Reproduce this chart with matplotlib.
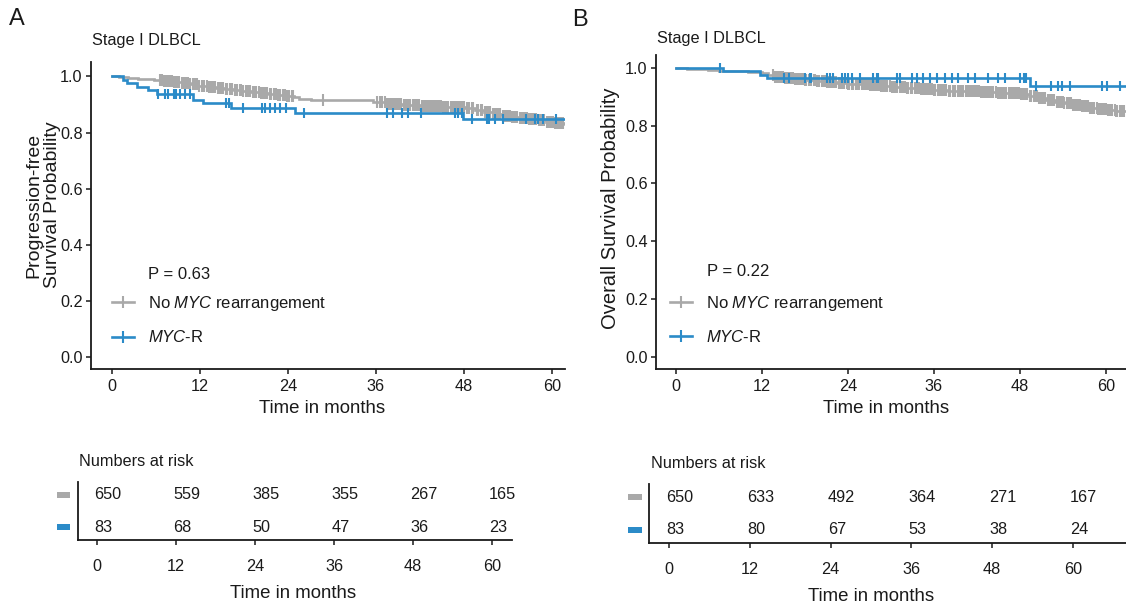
import numpy as np
import matplotlib
matplotlib.use('Agg')
import matplotlib.pyplot as plt
from matplotlib.lines import Line2D
from matplotlib.patches import Rectangle
import matplotlib.transforms as mtransforms

plt.rcParams['font.family'] = ['Liberation Sans', 'DejaVu Sans']
plt.rcParams['mathtext.fontset'] = 'custom'
plt.rcParams['mathtext.it'] = 'Liberation Sans:italic'
plt.rcParams['mathtext.rm'] = 'Liberation Sans'
NARROW = ['Liberation Sans Narrow', 'Liberation Sans', 'DejaVu Sans']

GRAY = '#A9A9A9'
BLUE = '#2B8BC8'
TXT = '#1a1a1a'

# ---------------- data ----------------
risk_times = [0, 12, 24, 36, 48, 60]
group_labels = [r'No $\mathit{MYC}$ rearrangement', r'$\mathit{MYC}$-R']

# Panel A : progression-free survival
pfs_nomyc_t = [0, 1.0, 2.2, 3.5, 4.6, 5.8, 7.0, 8.3, 9.5, 10.6, 11.8, 13.0, 14.2, 15.4,
               16.6, 17.8, 19.0, 20.2, 21.4, 22.6, 23.8, 24.8, 25.5, 27.2, 33.0, 35.6,
               37.5, 39.5, 42.0, 45.0, 48.2, 49.5, 50.8, 52.0, 53.2, 54.4, 55.6, 56.8,
               58.0, 59.2, 60.4, 61.8]
pfs_nomyc_s = [1.0, 0.998, 0.995, 0.992, 0.989, 0.986, 0.983, 0.979, 0.975, 0.971, 0.967,
               0.963, 0.959, 0.955, 0.951, 0.947, 0.943, 0.939, 0.936, 0.933, 0.930, 0.925,
               0.920, 0.917, 0.914, 0.907, 0.902, 0.898, 0.895, 0.892, 0.886, 0.879, 0.872,
               0.866, 0.860, 0.855, 0.851, 0.847, 0.843, 0.839, 0.835, 0.832]
pfs_nomyc_cens = [6.5, 6.8, 7.1, 7.4, 7.6, 7.9, 8.2, 8.5, 8.8, 9.0, 9.2, 9.5, 9.8, 10.1,
                  10.4, 10.7, 11.0, 11.3, 11.6, 11.9, 12.3, 12.6, 12.9, 13.2, 13.5, 13.8,
                  14.0, 14.4, 14.7, 14.9, 15.2, 15.5, 15.7, 16.1, 16.4, 16.8, 17.0, 17.4,
                  17.6, 17.9, 18.3, 18.6, 18.8, 19.2, 19.5, 19.7, 20.0, 20.3, 20.5, 20.8,
                  21.0, 21.2, 21.5, 21.7, 22.1, 22.4, 22.7, 22.9, 23.3, 23.6, 23.9, 24.1,
                  24.5, 24.7, 28.8, 36.2, 36.5, 36.9, 37.2, 37.5, 37.8, 38.1, 38.3, 38.6,
                  38.9, 39.1, 39.4, 39.8, 40.0, 40.2, 40.5, 40.7, 41.0, 41.3, 41.6, 41.9,
                  42.3, 42.6, 42.8, 43.1, 43.3, 43.5, 43.8, 44.0, 44.3, 44.6, 44.9, 45.2,
                  45.4, 45.7, 45.9, 46.3, 46.5, 46.8, 47.1, 47.4, 47.6, 47.9, 48.0, 48.4,
                  48.7, 49.1, 49.3, 49.8, 50.0, 50.3, 50.5, 50.9, 51.1, 51.4, 51.6, 52.0,
                  52.3, 52.5, 52.7, 53.0, 53.3, 53.5, 53.8, 54.0, 54.3, 54.6, 54.9, 55.1,
                  55.3, 55.6, 55.9, 56.1, 56.3, 56.6, 56.9, 57.2, 57.4, 57.6, 57.9, 58.2,
                  58.4, 58.6, 58.8, 59.0, 59.3, 59.5, 59.7, 59.9, 60.2, 60.5, 60.7, 60.9,
                  61.1, 61.3, 61.5]
pfs_myc_t = [0, 1.55, 2.0, 3.4, 4.95, 6.1, 11.1, 12.45, 16.3, 25.0, 47.9, 61.8]
pfs_myc_s = [1.0, 0.988, 0.976, 0.963, 0.951, 0.938, 0.916, 0.904, 0.886, 0.871, 0.847, 0.847]
pfs_myc_cens = [6.3, 7.2, 7.7, 8.4, 8.8, 9.3, 10.0, 10.6, 15.6, 15.95, 17.9, 20.4, 20.9,
                21.5, 22.2, 22.9, 23.8, 26.2, 37.5, 38.4, 39.5, 40.4, 42.2, 46.8, 47.2,
                47.7, 49.05, 51.1, 51.5, 52.2, 53.4, 56.5, 57.7, 58.1, 58.8, 60.6]
pfs_risk_nomyc = [650, 559, 385, 355, 267, 165]
pfs_risk_myc = [83, 68, 50, 47, 36, 23]

# Panel B : overall survival
os_nomyc_t = [0, 1.5, 3.0, 4.5, 6.0, 8.0, 10.0, 12.0, 12.8, 13.6, 15.0, 16.5, 18.0, 19.5,
              21.0, 22.5, 24.0, 25.5, 27.0, 28.5, 30.0, 32.0, 34.0, 36.0, 38.0, 40.0,
              42.5, 45.0, 48.0, 49.3, 50.5, 51.7, 52.9, 54.1, 55.3, 56.5, 57.7, 58.9,
              60.1, 61.3, 62.8]
os_nomyc_s = [1.0, 0.997, 0.995, 0.993, 0.990, 0.988, 0.986, 0.982, 0.975, 0.968, 0.963,
              0.960, 0.957, 0.954, 0.951, 0.948, 0.945, 0.942, 0.939, 0.936, 0.933, 0.930,
              0.927, 0.924, 0.921, 0.918, 0.915, 0.912, 0.909, 0.902, 0.896, 0.889, 0.883,
              0.877, 0.872, 0.867, 0.862, 0.857, 0.853, 0.849, 0.849]
os_nomyc_cens = [13.5, 13.8, 14.1, 14.4, 14.6, 14.9, 15.2, 15.5, 15.7, 16.0, 16.3, 16.6,
                 16.9, 17.1, 17.4, 17.7, 18.0, 18.2, 18.5, 18.7, 18.9, 19.2, 19.4, 19.7,
                 20.0, 20.3, 20.5, 20.8, 21.1, 21.4, 21.6, 21.8, 22.1, 22.3, 22.7, 22.9,
                 23.2, 23.5, 23.8, 24.0, 24.2, 24.5, 24.7, 25.1, 25.3, 25.6, 25.9, 26.2,
                 26.5, 26.8, 27.1, 27.3, 27.6, 27.8, 28.0, 28.3, 28.6, 28.8, 29.0, 29.3,
                 29.5, 29.8, 30.1, 30.4, 30.6, 30.9, 31.2, 31.5, 31.7, 31.9, 32.2, 32.4,
                 32.8, 33.0, 33.3, 33.6, 33.9, 34.2, 34.5, 34.8, 35.0, 35.3, 35.5, 35.7,
                 36.0, 36.2, 36.6, 36.9, 37.1, 37.4, 37.7, 38.1, 38.3, 38.6, 38.8, 39.0,
                 39.3, 39.5, 39.8, 40.1, 40.5, 40.7, 40.9, 41.2, 41.4, 41.7, 42.0, 42.3,
                 42.6, 42.9, 43.1, 43.4, 43.6, 43.8, 44.1, 44.3, 44.7, 45.0, 45.2, 45.5,
                 45.8, 46.1, 46.4, 46.7, 46.9, 47.1, 47.4, 47.6, 47.9, 48.2, 48.4, 48.6,
                 48.9, 49.0, 49.4, 49.6, 49.9, 50.1, 50.4, 50.7, 51.0, 51.2, 51.5, 51.9,
                 52.1, 52.4, 52.6, 52.8, 53.1, 53.3, 53.5, 53.7, 54.0, 54.2, 54.5, 54.8,
                 55.1, 55.4, 55.7, 55.9, 56.1, 56.4, 56.6, 56.9, 57.1, 57.3, 57.5, 57.8,
                 58.0, 58.2, 58.4, 58.7, 58.9, 59.2, 59.4, 59.6, 59.8, 60.0, 60.3, 60.5,
                 60.7, 60.9, 61.2, 61.4, 61.6, 61.9, 62.1, 62.3, 62.5]
os_myc_t = [0, 6.5, 11.7, 12.65, 49.4, 62.8]
os_myc_s = [1.0, 0.988, 0.976, 0.963, 0.938, 0.938]
os_myc_cens = [6.2, 15.0, 15.7, 18.0, 18.7, 18.9, 21.0, 21.5, 21.95, 23.1, 23.6, 24.0,
               24.5, 25.7, 27.5, 28.0, 28.2, 30.8, 31.3, 32.9, 33.6, 34.5, 35.4, 36.4,
               37.5, 38.5, 39.4, 40.8, 41.7, 43.6, 45.0, 45.9, 48.0, 48.5, 48.9, 50.3,
               52.4, 53.3, 53.8, 55.0, 59.4, 60.1, 62.0]
os_risk_nomyc = [650, 633, 492, 364, 271, 167]
os_risk_myc = [83, 80, 67, 53, 38, 24]

# ---------------- figure ----------------
W, H = 1126, 609
fig = plt.figure(figsize=(W / 100, H / 100), dpi=100)
fig.patch.set_facecolor('white')


def fx(px):
    return px / W


def fy(py):
    return 1 - py / H


def rect(l, t, r, b):
    return [fx(l), fy(b), fx(r) - fx(l), fy(t) - fy(b)]


def km(ax, t, s, cens, color, z, ms):
    t = np.asarray(t)
    s = np.asarray(s)
    ax.step(t, s, where='post', color=color, lw=1.9, zorder=z, solid_joinstyle='miter')
    cens = np.asarray(cens)
    sc = s[np.searchsorted(t, cens, side='right') - 1]
    ax.plot(cens, sc, ls='none', marker='|', ms=ms, mew=1.5, color=color, zorder=z)


def style_km(ax, xlim, ylim):
    ax.set_xlim(*xlim)
    ax.set_ylim(*ylim)
    for sp in ['top', 'right']:
        ax.spines[sp].set_visible(False)
    for sp in ['left', 'bottom']:
        ax.spines[sp].set_linewidth(1.3)
        ax.spines[sp].set_color(TXT)
    ax.set_xticks(risk_times)
    ax.set_yticks([0, 0.2, 0.4, 0.6, 0.8, 1.0])
    ax.set_yticklabels(['0.0', '0.2', '0.4', '0.6', '0.8', '1.0'])
    ax.tick_params(axis='both', length=3.5, width=1.1, color=TXT, labelcolor=TXT,
                   labelsize=11.7)
    ax.tick_params(axis='x', pad=3.5)
    ax.tick_params(axis='y', pad=2.5)
    for lab in ax.get_xticklabels() + ax.get_yticklabels():
        lab.set_family(NARROW)


def legend_km(ax, anchor):
    handles = [Line2D([], [], color=GRAY, lw=1.9, marker='|', ms=9, mew=1.5),
               Line2D([], [], color=BLUE, lw=1.9, marker='|', ms=9, mew=1.5)]
    ax.legend(handles, group_labels, loc='upper left', bbox_to_anchor=anchor,
              frameon=False, fontsize=12, handlelength=1.3, handletextpad=0.85,
              labelspacing=1.0, borderpad=0, borderaxespad=0, labelcolor=TXT)


def risk_table(ax, xlim, gray_vals, blue_vals, sq_x0, sq_x1):
    ax.set_xlim(*xlim)
    ax.set_ylim(-0.4, 1.4)
    for sp in ['top', 'right']:
        ax.spines[sp].set_visible(False)
    for sp in ['left', 'bottom']:
        ax.spines[sp].set_linewidth(1.3)
        ax.spines[sp].set_color(TXT)
    ax.set_yticks([])
    ax.set_xticks(risk_times)
    ax.tick_params(axis='x', length=3.5, width=1.1, color=TXT, labelcolor=TXT,
                   labelsize=11.7, pad=10)
    for lab in ax.get_xticklabels():
        lab.set_family(NARROW)
    off = mtransforms.offset_copy(ax.transData, fig=fig, x=-3, y=0, units='dots')
    for row, vals in zip([1, 0], [gray_vals, blue_vals]):
        for t, v in zip(risk_times, vals):
            ax.text(t, row, str(v), transform=off, ha='left', va='center',
                    fontsize=11.7, family=NARROW, color=TXT)
    tr = mtransforms.blended_transform_factory(ax.transAxes, ax.transData)
    for row, c in zip([1, 0], [GRAY, BLUE]):
        ax.add_patch(Rectangle((sq_x0, row - 0.1), sq_x1 - sq_x0, 0.2, transform=tr,
                               facecolor=c, edgecolor='none', clip_on=False))


# Panel A KM
axA = fig.add_axes(rect(91, 62, 565, 369))
km(axA, pfs_nomyc_t, pfs_nomyc_s, pfs_nomyc_cens, GRAY, 2, 9)
km(axA, pfs_myc_t, pfs_myc_s, pfs_myc_cens, BLUE, 3, 7)
style_km(axA, (-2.86, 61.8), (-0.042, 1.051))
axA.set_ylabel('Progression-free\nSurvival Probability', fontsize=14, color=TXT,
               linespacing=1.12)
axA.yaxis.set_label_coords(-0.064, 0.534)
axA.set_xlabel('Time in months', fontsize=13.4, color=TXT)
axA.xaxis.set_label_coords(0.487, -0.1)
axA.text(0.12, 0.309, 'P = 0.63', transform=axA.transAxes, fontsize=12, color=TXT,
         va='center', ha='left')
legend_km(axA, (0.044, 0.245))

# Panel B KM
axB = fig.add_axes(rect(656, 55, 1126, 369))
km(axB, os_nomyc_t, os_nomyc_s, os_nomyc_cens, GRAY, 2, 9)
km(axB, os_myc_t, os_myc_s, os_myc_cens, BLUE, 3, 7)
style_km(axB, (-2.8, 62.8), (-0.0426, 1.044))
axB.set_ylabel('Overall Survival Probability', fontsize=14.5, color=TXT)
axB.yaxis.set_label_coords(-0.077, 0.513)
axB.set_xlabel('Time in months', fontsize=13.4, color=TXT)
axB.xaxis.set_label_coords(0.489, -0.098)
axB.text(0.1085, 0.309, 'P = 0.22', transform=axB.transAxes, fontsize=12, color=TXT,
         va='center', ha='left')
legend_km(axB, (0.03, 0.24))

# Risk tables
tA = fig.add_axes(rect(78, 482, 512, 540))
risk_table(tA, (-2.9, 63.0), pfs_risk_nomyc, pfs_risk_myc, -0.048, -0.018)
tA.set_xlabel('Time in months', fontsize=13.4, color=TXT)
tA.xaxis.set_label_coords(0.4965, -0.78)

tB = fig.add_axes(rect(649, 484, 1126, 543))
risk_table(tB, (-3.0, 67.9), os_risk_nomyc, os_risk_myc, -0.044, -0.015)
tB.set_xlabel('Time in months', fontsize=13.4, color=TXT)
tB.xaxis.set_label_coords(0.465, -0.76)

# Titles and labels
fig.text(fx(92), fy(41), 'Stage I DLBCL', fontsize=11.7, color=TXT, va='center', ha='left')
fig.text(fx(657), fy(39), 'Stage I DLBCL', fontsize=11.7, color=TXT, va='center', ha='left')
fig.text(fx(79), fy(461), 'Numbers at risk', fontsize=11.7, color=TXT, va='center', ha='left')
fig.text(fx(651), fy(463), 'Numbers at risk', fontsize=11.7, color=TXT, va='center', ha='left')
fig.text(fx(9), fy(19), 'A', fontsize=17, color=TXT, va='center', ha='left')
fig.text(fx(572), fy(20), 'B', fontsize=17, color=TXT, va='center', ha='left')

fig.savefig('out.png', dpi=100, facecolor='white')
